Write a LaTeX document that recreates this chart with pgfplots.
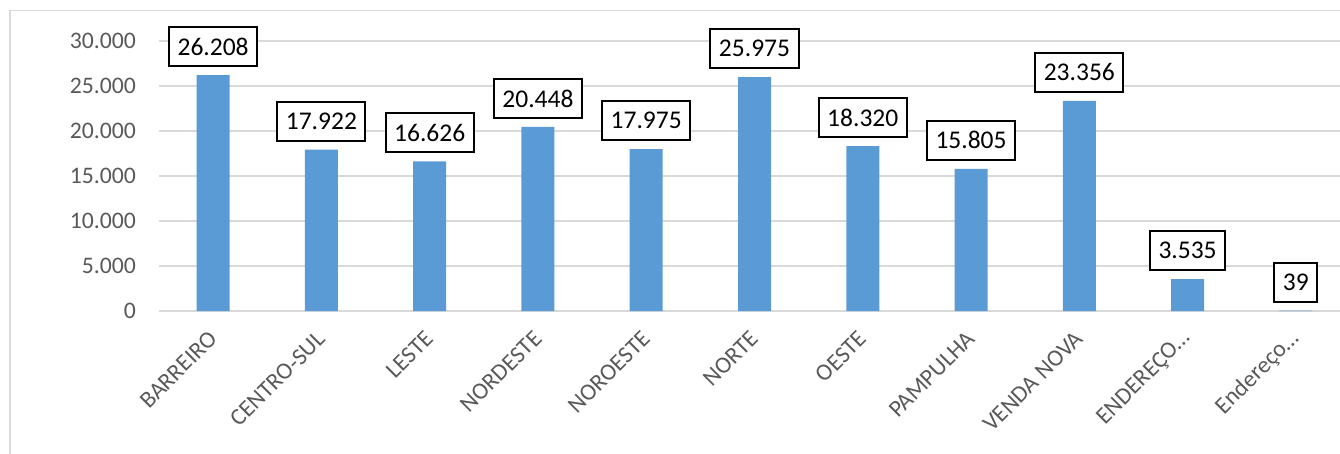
\documentclass[border=0pt]{standalone}
\usepackage{pgfplots}
\pgfplotsset{compat=1.18}
\usepackage{fontspec}
\setmainfont{Carlito}
\definecolor{barblue}{HTML}{5B9BD5}
\definecolor{gridgray}{HTML}{D9D9D9}
\definecolor{txtgray}{HTML}{595959}
\begin{document}
\begin{tikzpicture}
\begin{axis}[
  at={(159pt,-311pt)}, anchor=south west,
  scale only axis, width=1191pt, height=270pt,
  xmin=-0.5, xmax=10.5, ymin=0, ymax=30000,
  ybar, bar width=33pt,
  axis line style={draw=none},
  major tick length=0pt,
  ymajorgrids, grid style={gridgray, line width=1.5pt},
  ytick={0,5000,10000,15000,20000,25000,30000},
  scaled y ticks=false,
  xtick={0,1,2,3,4,5,6,7,8,9,10},
  xticklabels={BARREIRO,CENTRO-SUL,LESTE,NORDESTE,NOROESTE,NORTE,OESTE,PAMPULHA,VENDA NOVA,ENDEREÇO…,Endereço…},
  yticklabel style={font=\fontsize{23.7}{28}\selectfont, text=txtgray, inner sep=0pt, anchor=east, xshift=-23pt},
  xticklabel style={font=\fontsize{23.7}{28}\selectfont, text=txtgray, inner sep=0pt, anchor=east, yshift=-24pt, rotate=45},
  nodes near coords,
  nodes near coords style={font=\fontsize{25.5}{30}\selectfont, text=black, draw=black, line width=2pt, fill=white, inner xsep=8.5pt, inner ysep=0pt, minimum height=39pt, anchor=south, yshift=8pt},
  /pgf/number format/1000 sep={.},
  /pgf/number format/assume math mode=true,
]
\addplot[fill=barblue, draw=none] coordinates {
 (0,26208) (1,17922) (2,16626) (3,20448) (4,17975) (5,25975)
 (6,18320) (7,15805) (8,23356) (9,3535) (10,39)};
\end{axis}
\draw[gridgray, line width=1.5pt] (10pt,-480pt) -- (10pt,-10.7pt) -- (1380pt,-10.7pt);
\pgfresetboundingbox
\path[use as bounding box] (0pt,0pt) rectangle (1340pt,-453pt);
\end{tikzpicture}
\end{document}
